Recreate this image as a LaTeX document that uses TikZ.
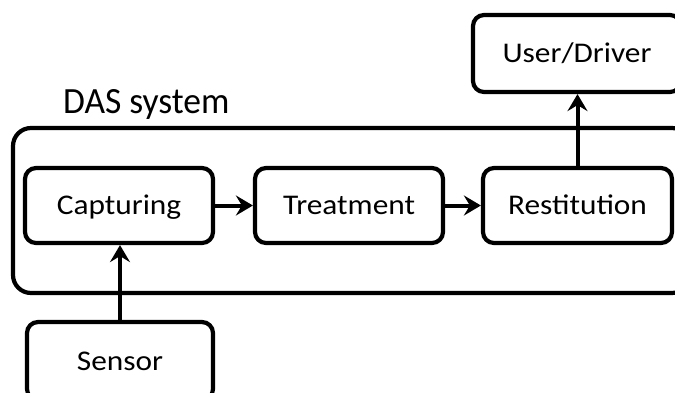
\documentclass[tikz,border=0pt]{standalone}
\usepackage{fontspec}
\setmainfont{Carlito}
\newfontfamily\boxfont[FakeStretch=1.1]{Carlito}
\newfontfamily\titlefont[FakeStretch=0.96]{Carlito}
\usetikzlibrary{arrows.meta}
\begin{document}
\begin{tikzpicture}[x=1pt,y=-1pt,
  blockbox/.style={draw=black,line width=4.2pt,rounded corners=11pt,
    minimum width=188pt,minimum height=75pt,inner sep=0pt,
    text height=18pt,text depth=0pt,
    font=\boxfont\fontsize{28.5}{33}\selectfont},
  flow/.style={line width=4pt,-{Stealth[length=17pt,width=20pt,inset=6pt]}}]
\useasboundingbox (0,0) rectangle (675,392);
\clip (0,0) rectangle (675,392);

% enclosing system frame and its title
\node[draw=black,line width=4.2pt,rounded corners=18pt,inner sep=0pt,
  minimum width=677pt,minimum height=165pt] (das) at (351.5,210.5) {};
\node[anchor=base west,inner sep=0pt,font=\titlefont\fontsize{37}{40}\selectfont]
  (dastitle) at (63,113.5) {DAS system};

% processing chain
\node[blockbox] (capt) at (119,205.5) {Capturing};
\node[blockbox] (treat) at (349,205.5) {Treatment};
\node[blockbox,minimum width=189pt] (rest) at (577.5,205.5) {Restitution};

% external blocks
\node[blockbox,minimum width=208pt,minimum height=77pt] (user) at (577,53.5) {User/Driver};
\node[blockbox,minimum width=186pt,minimum height=78pt] (sensor) at (120,361) {Sensor};

% connectors
\draw[flow] (capt.east) -- (treat.west);
\draw[flow] (treat.east) -- (rest.west);
\draw[flow] (rest.north) -- (rest.north |- user.south);
\draw[flow] (sensor.north) -- (sensor.north |- capt.south);
\end{tikzpicture}
\end{document}
